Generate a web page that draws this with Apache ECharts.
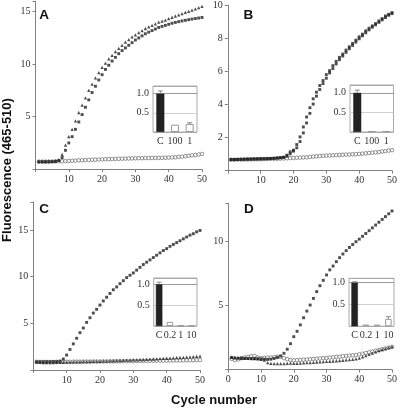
<!DOCTYPE html>
<html>
<head>
<meta charset="utf-8">
<script src="https://cdn.jsdelivr.net/npm/echarts@6/dist/echarts.min.js"></script>
<style>html,body{margin:0;padding:0;background:#fff}#c{width:400px;height:408px}</style>
</head>
<body>
<div id="c"></div>
<script>
// ---- data ----
var cycles = [];
for (var i = 1; i <= 50; i++) cycles.push(i);

var A_squares = [0.72,0.72,0.72,0.73,0.73,0.75,0.82,1.1,1.8,2.5,3.1,3.8,4.5,5.2,5.9,6.6,7.3,7.9,8.5,9.0,9.5,9.9,10.3,10.65,11.0,11.3,11.55,11.8,12.05,12.3,12.5,12.7,12.9,13.05,13.2,13.35,13.5,13.6,13.7,13.8,13.9,13.98,14.05,14.12,14.18,14.24,14.3,14.35,14.4,14.45];
var A_triangles = [0.72,0.72,0.72,0.73,0.74,0.78,0.9,1.4,2.3,3.1,3.8,4.6,5.4,6.1,6.8,7.5,8.1,8.7,9.2,9.7,10.1,10.5,10.85,11.2,11.5,11.8,12.1,12.35,12.6,12.8,13.0,13.2,13.4,13.55,13.7,13.85,14.0,14.1,14.2,14.35,14.47,14.59,14.7,14.82,14.93,15.04,15.15,15.26,15.38,15.5];
var A_circles = [0.72,0.72,0.72,0.73,0.73,0.74,0.75,0.76,0.77,0.78,0.8,0.82,0.84,0.85,0.87,0.88,0.9,0.91,0.92,0.94,0.95,0.96,0.97,0.98,0.99,1.0,1.01,1.02,1.03,1.04,1.05,1.05,1.06,1.06,1.07,1.07,1.08,1.08,1.09,1.1,1.12,1.14,1.17,1.2,1.24,1.28,1.32,1.36,1.4,1.45];

var B_squares = [0.68,0.68,0.68,0.69,0.69,0.7,0.7,0.71,0.71,0.72,0.72,0.73,0.74,0.75,0.77,0.79,0.82,0.94,1.14,1.24,1.58,2.04,2.64,3.24,3.8,4.34,4.74,5.14,5.44,5.8,6.04,6.34,6.6,6.84,7.04,7.28,7.48,7.68,7.88,8.08,8.24,8.44,8.6,8.74,8.88,9.04,9.18,9.34,9.44,9.54];
var B_squares2 = [0.67,0.67,0.68,0.68,0.69,0.69,0.7,0.7,0.71,0.71,0.72,0.72,0.73,0.74,0.76,0.78,0.8,0.87,1.02,1.18,1.38,1.76,2.28,2.88,3.46,4.02,4.5,4.9,5.26,5.58,5.9,6.16,6.44,6.7,6.92,7.14,7.36,7.56,7.76,7.96,8.14,8.32,8.5,8.66,8.8,8.95,9.1,9.24,9.38,9.48];
var B_circles = [0.66,0.66,0.67,0.67,0.67,0.68,0.68,0.69,0.69,0.7,0.7,0.71,0.71,0.72,0.72,0.73,0.74,0.75,0.76,0.77,0.78,0.79,0.8,0.81,0.83,0.85,0.87,0.88,0.9,0.91,0.92,0.93,0.94,0.95,0.96,0.97,0.98,0.99,1.0,1.01,1.03,1.05,1.07,1.09,1.11,1.13,1.16,1.18,1.21,1.24];

var C_squares = [0.88,0.88,0.88,0.89,0.89,0.9,0.9,0.95,1.18,1.6,2.2,2.8,3.4,4.0,4.5,5.1,5.6,6.1,6.5,6.96,7.4,7.8,8.2,8.6,8.9,9.25,9.57,9.9,10.15,10.4,10.7,11.0,11.3,11.55,11.8,12.05,12.3,12.55,12.8,13.0,13.25,13.45,13.65,13.85,14.05,14.25,14.45,14.6,14.8,14.95];
var C_triangles = [0.84,0.82,0.8,0.8,0.8,0.8,0.81,0.82,0.83,0.84,0.85,0.86,0.87,0.88,0.89,0.9,0.91,0.92,0.93,0.94,0.95,0.96,0.98,0.99,1.0,1.02,1.03,1.05,1.06,1.08,1.09,1.11,1.12,1.14,1.16,1.18,1.2,1.22,1.24,1.26,1.28,1.3,1.32,1.34,1.36,1.38,1.4,1.43,1.45,1.48];
var C_circles = [0.88,0.87,0.86,0.86,0.86,0.86,0.87,0.87,0.88,0.88,0.88,0.89,0.89,0.89,0.9,0.9,0.9,0.91,0.91,0.91,0.92,0.92,0.93,0.93,0.94,0.94,0.95,0.95,0.96,0.96,0.97,0.97,0.98,0.98,0.99,0.99,1.0,1.0,1.01,1.01,1.02,1.02,1.03,1.03,1.04,1.04,1.05,1.05,1.06,1.07];

var D_squares = [0.95,0.92,0.9,0.9,0.88,0.88,0.88,0.87,0.86,0.84,0.82,0.8,0.82,0.88,0.96,1.07,1.28,1.6,2.03,2.58,3.0,3.5,4.06,4.58,5.05,5.57,6.1,6.56,6.98,7.4,7.8,8.1,8.44,8.75,9.04,9.3,9.55,9.78,10.0,10.2,10.42,10.64,10.86,11.08,11.3,11.52,11.74,11.96,12.18,12.4];
var D_circles = [0.85,0.75,0.8,0.9,0.95,1.0,1.05,1.08,0.95,0.9,0.92,0.95,0.95,0.98,1.02,1.0,0.9,0.82,0.76,0.73,0.74,0.76,0.78,0.8,0.82,0.84,0.86,0.88,0.9,0.92,0.95,0.97,1.0,1.02,1.05,1.07,1.1,1.12,1.15,1.2,1.25,1.3,1.36,1.42,1.48,1.54,1.6,1.66,1.72,1.78];
var D_triangles = [1.0,0.95,0.92,0.9,0.9,0.88,0.87,0.86,0.85,0.8,0.75,0.55,0.5,0.48,0.47,0.47,0.48,0.5,0.52,0.5,0.5,0.52,0.53,0.55,0.56,0.58,0.6,0.62,0.63,0.65,0.66,0.68,0.7,0.72,0.74,0.76,0.78,0.8,0.85,0.9,1.0,1.1,1.2,1.3,1.4,1.5,1.58,1.65,1.72,1.8];

// insets
var A_cats = ['C','100','1'];
var A_bars = [1.0, 0.19, 0.21];
var A_err = [0.07, 0, 0.03];
var B_cats = ['C','100','1'];
var B_bars = [1.0, 0.02, 0.02];
var B_err = [0.07, 0, 0];
var C_cats = ['C','0.2','1','10'];
var C_bars = [1.0, 0.1, 0.01, 0.01];
var C_err = [0.05, 0, 0, 0];
var D_cats = ['C','0.2','1','10'];
var D_bars = [1.0, 0.04, 0.04, 0.17];
var D_err = [0.02, 0, 0, 0.05];

var panelLetters = ['A','B','C','D'];
var yTitle = 'Fluorescence (465-510)';
var xTitle = 'Cycle number';

// ---- layout ----
var serif = 'Liberation Serif';
var sans = 'Liberation Sans';
var ink = '#222';
var axisGray = '#808080';

var mainGrids = [
  {left: 35.5, top: 1.2, width: 166.5, height: 168},
  {left: 227.8, top: 3.4, width: 167.2, height: 167.3},
  {left: 33.3, top: 202, width: 166.7, height: 168},
  {left: 228.3, top: 203.3, width: 166.7, height: 166.4}
];
var mainYMax = [16, 10, 18, 13];
var mainYInt = [5, 2, 5, 5];
var showZeroX = [false, false, false, true];

var insetGrids = [
  {left: 153, top: 86, width: 44, height: 46},
  {left: 350, top: 85, width: 43.5, height: 47},
  {left: 153.7, top: 278, width: 43.3, height: 48},
  {left: 349, top: 278.3, width: 45, height: 48}
];
var insetMax = [1.2, 1.2, 1.15, 1.1];
var insetCats = [A_cats, B_cats, C_cats, D_cats];
var insetBars = [A_bars, B_bars, C_bars, D_bars];
var insetErr = [A_err, B_err, C_err, D_err];
var barW = [8, 8, 6.5, 6.5];

var grids = [], xAxes = [], yAxes = [], series = [];

mainGrids.forEach(function (g, k) {
  grids.push(Object.assign({containLabel: false}, g));
  xAxes.push({
    type: 'value', gridIndex: k, min: 0, max: 50, interval: 10,
    axisLine: {show: true, onZero: false, lineStyle: {color: axisGray, width: 1}},
    axisTick: {show: true, length: 3, lineStyle: {color: axisGray}},
    splitLine: {show: false},
    axisLabel: {
      margin: 5, fontFamily: serif, fontSize: 10, color: '#333',
      formatter: (function (z) { return function (v) { return (v === 0 && !z) ? '' : String(v); }; })(showZeroX[k])
    }
  });
  yAxes.push({
    type: 'value', gridIndex: k, min: 0, max: mainYMax[k], interval: mainYInt[k],
    axisLine: {show: true, onZero: false, lineStyle: {color: axisGray, width: 1}},
    axisTick: {show: true, length: 3, lineStyle: {color: axisGray}},
    splitLine: {show: false},
    axisLabel: {
      margin: 5, fontFamily: serif, fontSize: 10, color: '#333',
      formatter: (function (iv) { return function (v) { return (v === 0 || Math.abs(v / iv - Math.round(v / iv)) > 1e-6) ? '' : String(v); }; })(mainYInt[k])
    }
  });
});

function pts(arr) { return arr.map(function (v, i) { return [cycles[i], v]; }); }
function sq(k, arr) {
  series.push({type: 'scatter', xAxisIndex: k, yAxisIndex: k, symbol: 'rect', symbolSize: 2.9,
    itemStyle: {color: ink}, data: pts(arr), z: 3, silent: true});
}
function tri(k, arr) {
  series.push({type: 'scatter', xAxisIndex: k, yAxisIndex: k, symbol: 'triangle', symbolSize: 3.3,
    itemStyle: {color: ink}, data: pts(arr), z: 3, silent: true});
}
function circ(k, arr) {
  series.push({type: 'scatter', xAxisIndex: k, yAxisIndex: k, symbol: 'circle', symbolSize: 3.6,
    itemStyle: {color: '#fff', borderColor: '#444', borderWidth: 0.7}, data: pts(arr), z: 2, silent: true});
}
circ(0, A_circles); sq(0, A_squares); tri(0, A_triangles);
circ(1, B_circles); sq(1, B_squares2); sq(1, B_squares);
circ(2, C_circles); tri(2, C_triangles); sq(2, C_squares);
circ(3, D_circles); tri(3, D_triangles); sq(3, D_squares);

insetGrids.forEach(function (g, j) {
  var gi = 4 + j;
  grids.push(Object.assign({show: true, borderColor: '#aaa', borderWidth: 1, backgroundColor: '#fff', containLabel: false}, g));
  xAxes.push({
    type: 'category', gridIndex: gi, data: insetCats[j],
    axisLine: {show: false}, axisTick: {show: false},
    axisLabel: {margin: 4, fontFamily: serif, fontSize: 10, color: '#333', interval: 0}
  });
  yAxes.push({
    type: 'value', gridIndex: gi, min: 0, max: insetMax[j], interval: 0.5,
    axisLine: {show: false}, axisTick: {show: false},
    splitLine: {show: true, lineStyle: {color: ['#aaa', '#d0d0d0', '#999'], width: 1}},
    axisLabel: {margin: 4, fontFamily: serif, fontSize: 10, color: '#333',
      formatter: function (v) { return (v === 0 || Math.abs(v * 2 - Math.round(v * 2)) > 1e-6) ? '' : v.toFixed(1); }}
  });
  series.push({
    type: 'bar', xAxisIndex: gi, yAxisIndex: gi, barWidth: barW[j], silent: true, z: 5,
    data: insetBars[j].map(function (v, i) {
      return {value: v, itemStyle: i === 0 ? {color: ink, borderColor: ink, borderWidth: 0.5} : {color: '#fff', borderColor: '#999', borderWidth: 1}};
    })
  });
  series.push({
    type: 'custom', xAxisIndex: gi, yAxisIndex: gi, silent: true, z: 6,
    data: insetBars[j].map(function (v, i) { return [i, v, insetErr[j][i]]; }),
    renderItem: function (params, api) {
      var e = api.value(2);
      if (!e) return;
      var p1 = api.coord([api.value(0), api.value(1)]);
      var p2 = api.coord([api.value(0), api.value(1) + e]);
      return {type: 'group', children: [
        {type: 'line', shape: {x1: p1[0], y1: p1[1], x2: p2[0], y2: p2[1]}, style: {stroke: '#888', lineWidth: 1}},
        {type: 'line', shape: {x1: p2[0] - 2.5, y1: p2[1], x2: p2[0] + 2.5, y2: p2[1]}, style: {stroke: '#888', lineWidth: 1}}
      ]};
    }
  });
});

var letterPos = [[39.3, 15.5], [243.5, 15.5], [39.3, 209.7], [244, 209.7]];
var graphics = letterPos.map(function (p, i) {
  return {type: 'text', left: p[0], top: p[1] - 7.5, z: 10,
    style: {text: panelLetters[i], fontFamily: sans, fontWeight: 'bold', fontSize: 13.5, fill: '#111'}};
});
graphics.push({type: 'text', x: 7, y: 170, rotation: Math.PI / 2, z: 10,
  style: {text: yTitle, fontFamily: sans, fontWeight: 'bold', fontSize: 13, fill: '#111', align: 'center', verticalAlign: 'middle'}});
graphics.push({type: 'text', x: 214, y: 400, z: 10,
  style: {text: xTitle, fontFamily: sans, fontWeight: 'bold', fontSize: 13, fill: '#111', align: 'center', verticalAlign: 'middle'}});

var chart = echarts.init(document.getElementById('c'), null, {renderer: 'canvas'});
chart.setOption({
  animation: false,
  backgroundColor: '#fff',
  grid: grids, xAxis: xAxes, yAxis: yAxes, series: series,
  graphic: graphics
});
</script>
</body>
</html>
